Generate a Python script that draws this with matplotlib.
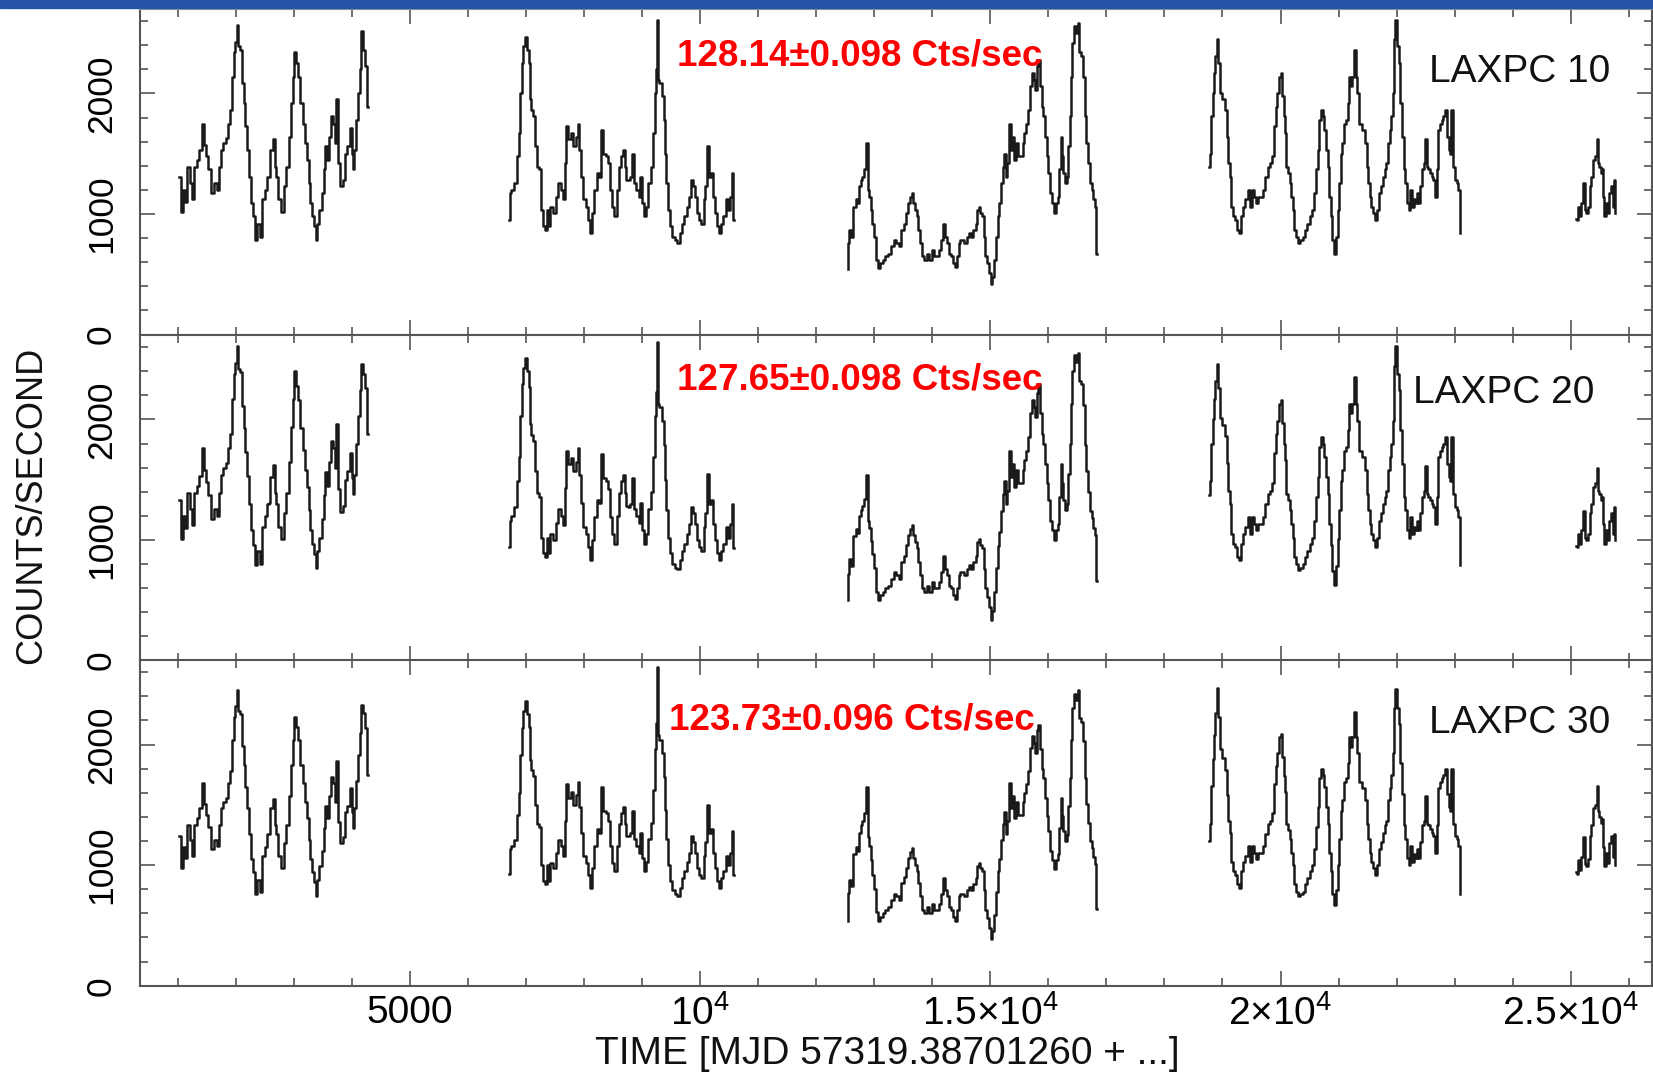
import numpy as np
import matplotlib.pyplot as plt
from matplotlib.ticker import MultipleLocator
from matplotlib.patches import Rectangle

plt.rcParams['font.family'] = ['Liberation Sans', 'DejaVu Sans']
plt.rcParams['mathtext.fontset'] = 'custom'
plt.rcParams['mathtext.rm'] = 'Liberation Sans'

# ---- light curve data (time in s after MJD 57319.38701260, counts/s) ----
seg1_time = [1030, 1070, 1120, 1140, 1180, 1230, 1260, 1300, 1350, 1400,
             1430, 1460, 1510, 1550, 1600, 1660, 1690, 1720, 1760, 1810,
             1850, 1890, 1920, 1950, 1980, 2010, 2030, 2060, 2090, 2120,
             2150, 2180, 2210, 2240, 2280, 2310, 2350, 2390, 2440, 2480,
             2520, 2550, 2580, 2610, 2660, 2680, 2710, 2750, 2810, 2840,
             2890, 2930, 2970, 3000, 3020, 3060, 3100, 3130, 3170, 3210,
             3240, 3270, 3300, 3330, 3360, 3390, 3410, 3460, 3500, 3530,
             3560, 3590, 3630, 3660, 3690, 3720, 3750, 3770, 3820, 3860,
             3900, 3940, 3980, 4010, 4030, 4060, 4090, 4120, 4150, 4180,
             4220, 4250, 4280]
seg1_lx10 = [1310, 1020, 1200, 1100, 1390, 1260, 1120, 1390, 1450, 1530,
             1750, 1570, 1480, 1370, 1170, 1260, 1200, 1390, 1530, 1590,
             1630, 1750, 1860, 2140, 2340, 2430, 2570, 2390, 2360, 2090,
             1920, 1730, 1530, 1310, 1090, 980, 780, 920, 810, 1120,
             1200, 1310, 1310, 1530, 1620, 1390, 1310, 1120, 1020, 1230,
             1390, 1640, 1920, 2140, 2340, 2250, 2140, 1920, 1750, 1590,
             1450, 1260, 1090, 980, 900, 780, 920, 1030, 1170, 1370,
             1560, 1450, 1640, 1810, 1750, 1590, 1950, 1420, 1230, 1280,
             1500, 1560, 1710, 1500, 1370, 1530, 1780, 2000, 2200, 2520,
             2360, 2230, 1890]
seg1_lx20 = [1330, 1010, 1200, 1100, 1390, 1260, 1120, 1390, 1450, 1530,
             1760, 1580, 1480, 1370, 1170, 1260, 1200, 1390, 1540, 1600,
             1640, 1760, 1880, 2170, 2380, 2470, 2610, 2420, 2390, 2110,
             1930, 1730, 1530, 1300, 1080, 960, 790, 910, 800, 1110,
             1200, 1300, 1310, 1520, 1620, 1390, 1300, 1110, 1010, 1220,
             1390, 1650, 1940, 2170, 2400, 2280, 2160, 1930, 1750, 1580,
             1440, 1250, 1080, 970, 880, 770, 910, 1020, 1170, 1370,
             1560, 1450, 1650, 1820, 1760, 1600, 1960, 1420, 1230, 1280,
             1500, 1570, 1720, 1510, 1380, 1540, 1800, 2030, 2240, 2460,
             2380, 2260, 1880]
seg1_lx30 = [1240, 980, 1150, 1060, 1330, 1210, 1080, 1330, 1390, 1470,
             1680, 1510, 1420, 1320, 1130, 1210, 1160, 1330, 1470, 1520,
             1560, 1680, 1780, 2040, 2230, 2320, 2450, 2280, 2250, 1990,
             1830, 1650, 1470, 1260, 1050, 940, 760, 880, 780, 1080,
             1150, 1260, 1260, 1470, 1550, 1330, 1260, 1080, 980, 1180,
             1330, 1570, 1830, 2040, 2230, 2150, 2040, 1830, 1680, 1520,
             1390, 1210, 1050, 940, 860, 740, 880, 990, 1120, 1310,
             1490, 1390, 1570, 1730, 1680, 1520, 1860, 1360, 1180, 1230,
             1440, 1490, 1640, 1440, 1310, 1470, 1700, 1910, 2100, 2330,
             2260, 2140, 1750]

seg2_time = [6710, 6730, 6770, 6830, 6860, 6890, 6920, 6940, 6970, 7000,
             7030, 7060, 7080, 7100, 7150, 7170, 7200, 7240, 7270, 7310,
             7350, 7380, 7400, 7440, 7490, 7540, 7580, 7620, 7650, 7680,
             7710, 7750, 7790, 7830, 7880, 7900, 7930, 7970, 8010, 8050,
             8090, 8120, 8160, 8200, 8240, 8280, 8310, 8350, 8400, 8440,
             8470, 8510, 8540, 8580, 8610, 8650, 8690, 8710, 8750, 8780,
             8810, 8840, 8870, 8920, 8960, 8980, 9020, 9050, 9090, 9130,
             9170, 9200, 9230, 9240, 9260, 9280, 9320, 9360, 9390, 9400,
             9430, 9460, 9500, 9540, 9590, 9630, 9670, 9710, 9750, 9790,
             9830, 9860, 9890, 9920, 9960, 10000, 10040, 10080, 10100, 10130,
             10160, 10200, 10230, 10280, 10310, 10350, 10380, 10420, 10460, 10500,
             10540, 10560, 10580]
seg2_lx10 = [950, 1170, 1200, 1260, 1480, 1670, 2000, 2250, 2390, 2470,
             2360, 2250, 1950, 1860, 1810, 1560, 1390, 1370, 1030, 900,
             870, 1030, 900, 1060, 1010, 1140, 1260, 1200, 1120, 1420,
             1730, 1620, 1670, 1560, 1640, 1750, 1530, 1310, 1120, 1060,
             950, 840, 1010, 1200, 1340, 1310, 1700, 1500, 1480, 1420,
             1200, 1060, 980, 1200, 1390, 1480, 1530, 1390, 1280, 1280,
             1310, 1500, 1260, 1200, 1140, 1310, 1090, 980, 1060, 1260,
             1390, 1670, 2000, 2200, 2610, 2110, 2090, 1980, 1780, 1500,
             1260, 1030, 900, 810, 780, 760, 840, 920, 980, 1060,
             1140, 1280, 1230, 1140, 1010, 950, 920, 1120, 1230, 1560,
             1310, 1340, 1140, 1010, 900, 840, 920, 980, 1120, 1030,
             1140, 1340, 950]
seg2_lx20 = [940, 1160, 1200, 1270, 1490, 1690, 2030, 2290, 2430, 2510,
             2400, 2270, 1960, 1870, 1820, 1570, 1390, 1360, 1020, 890,
             860, 1020, 890, 1050, 1000, 1140, 1260, 1200, 1120, 1430,
             1740, 1630, 1680, 1570, 1650, 1760, 1540, 1310, 1110, 1050,
             940, 830, 1000, 1190, 1330, 1310, 1710, 1510, 1490, 1420,
             1190, 1050, 970, 1200, 1390, 1490, 1540, 1390, 1280, 1270,
             1300, 1510, 1260, 1200, 1140, 1310, 1080, 970, 1050, 1260,
             1400, 1690, 2030, 2230, 2640, 2130, 2100, 1990, 1790, 1500,
             1250, 1020, 890, 800, 770, 760, 830, 910, 970, 1050,
             1130, 1270, 1220, 1130, 1000, 940, 910, 1110, 1220, 1550,
             1300, 1330, 1130, 1000, 890, 830, 910, 970, 1110, 1020,
             1130, 1300, 930]
seg2_lx30 = [930, 1130, 1160, 1210, 1420, 1600, 1910, 2140, 2280, 2360,
             2250, 2150, 1870, 1790, 1740, 1500, 1340, 1320, 1000, 870,
             840, 1000, 870, 1020, 980, 1100, 1210, 1160, 1080, 1370,
             1670, 1560, 1610, 1500, 1580, 1690, 1480, 1270, 1080, 1020,
             920, 810, 980, 1160, 1300, 1270, 1650, 1450, 1430, 1370,
             1160, 1020, 950, 1160, 1340, 1430, 1480, 1340, 1240, 1240,
             1270, 1450, 1220, 1160, 1100, 1270, 1060, 950, 1030, 1220,
             1350, 1620, 1960, 2180, 2640, 2080, 2040, 1930, 1730, 1460,
             1220, 1000, 870, 790, 760, 740, 810, 890, 950, 1030,
             1100, 1240, 1190, 1100, 980, 920, 890, 1080, 1190, 1500,
             1270, 1300, 1100, 980, 870, 810, 890, 950, 1080, 1000,
             1100, 1280, 920]

seg3_time = [12540, 12550, 12580, 12620, 12660, 12700, 12730, 12750, 12780, 12810,
             12840, 12870, 12900, 12930, 12950, 12980, 13010, 13040, 13080, 13130,
             13170, 13210, 13270, 13320, 13360, 13400, 13440, 13480, 13530, 13560,
             13600, 13630, 13660, 13680, 13720, 13740, 13770, 13800, 13840, 13880,
             13930, 13970, 14010, 14060, 14100, 14140, 14170, 14210, 14240, 14270,
             14310, 14340, 14370, 14410, 14440, 14470, 14500, 14540, 14570, 14610,
             14650, 14690, 14730, 14760, 14790, 14810, 14840, 14870, 14900, 14930,
             14960, 14990, 15020, 15050, 15090, 15120, 15140, 15170, 15200, 15230,
             15250, 15280, 15310, 15340, 15370, 15400, 15430, 15460, 15500, 15540,
             15570, 15600, 15630, 15670, 15700, 15730, 15760, 15790, 15810, 15840,
             15870, 15900, 15930, 15960, 15990, 16010, 16040, 16070, 16110, 16150,
             16180, 16200, 16220, 16240, 16270, 16300, 16330, 16360, 16380, 16400,
             16430, 16460, 16490, 16520, 16540, 16580, 16620, 16640, 16670, 16700,
             16730, 16760, 16790, 16820, 16830]
seg3_lx10 = [540, 760, 870, 810, 1060, 1120, 1090, 1230, 1280, 1310,
             1370, 1590, 1200, 1140, 1030, 920, 810, 620, 550, 590,
             620, 650, 670, 730, 780, 760, 730, 870, 920, 1010,
             1090, 1140, 1170, 1090, 1030, 980, 870, 760, 650, 620,
             670, 620, 700, 650, 650, 700, 780, 920, 810, 760,
             670, 650, 590, 560, 650, 760, 780, 780, 760, 810,
             840, 810, 870, 920, 1030, 1060, 1010, 980, 810, 650,
             590, 510, 420, 480, 620, 810, 980, 1090, 1260, 1390,
             1500, 1310, 1420, 1750, 1530, 1640, 1450, 1590, 1480, 1480,
             1590, 1670, 1750, 1860, 2060, 2170, 2110, 2030, 2230, 2280,
             2060, 1890, 1810, 1640, 1480, 1340, 1170, 1090, 1010, 1090,
             1140, 1370, 1640, 1480, 1340, 1260, 1310, 1560, 1810, 2140,
             2420, 2560, 2500, 2580, 2340, 2310, 2140, 1810, 1590, 1420,
             1260, 1200, 1120, 1060, 670]
seg3_lx20 = [500, 720, 840, 780, 1030, 1090, 1060, 1200, 1250, 1280,
             1340, 1540, 1160, 1100, 990, 880, 770, 570, 500, 540,
             570, 600, 620, 680, 730, 710, 680, 820, 870, 960,
             1040, 1090, 1120, 1040, 980, 930, 820, 710, 600, 570,
             620, 570, 650, 600, 600, 650, 730, 870, 760, 710,
             620, 600, 540, 510, 600, 710, 730, 730, 710, 760,
             790, 760, 820, 870, 980, 1010, 960, 930, 760, 600,
             530, 440, 340, 410, 570, 770, 950, 1070, 1240, 1380,
             1490, 1300, 1410, 1740, 1520, 1630, 1440, 1580, 1470, 1470,
             1580, 1660, 1740, 1850, 2050, 2160, 2100, 2020, 2220, 2290,
             2050, 1880, 1800, 1630, 1470, 1330, 1160, 1080, 1000, 1080,
             1130, 1360, 1630, 1470, 1330, 1250, 1300, 1550, 1800, 2130,
             2400, 2530, 2480, 2550, 2320, 2290, 2120, 1790, 1570, 1400,
             1240, 1180, 1100, 1040, 660]
seg3_lx30 = [540, 770, 880, 830, 1090, 1150, 1120, 1270, 1330, 1370,
             1430, 1650, 1230, 1160, 1040, 920, 800, 610, 540, 570,
             600, 630, 650, 710, 760, 740, 710, 850, 900, 980,
             1060, 1110, 1140, 1060, 1000, 950, 850, 740, 630, 600,
             650, 600, 680, 630, 630, 680, 760, 890, 790, 740,
             650, 630, 570, 540, 630, 740, 760, 760, 740, 790,
             820, 790, 840, 890, 990, 1020, 980, 950, 790, 630,
             560, 480, 390, 450, 590, 780, 950, 1050, 1210, 1340,
             1440, 1260, 1370, 1680, 1470, 1570, 1390, 1520, 1420, 1420,
             1520, 1600, 1670, 1780, 1970, 2070, 2010, 1930, 2120, 2160,
             1960, 1800, 1720, 1560, 1410, 1280, 1120, 1040, 970, 1040,
             1090, 1310, 1560, 1410, 1280, 1200, 1250, 1490, 1720, 2040,
             2300, 2420, 2370, 2450, 2220, 2190, 2030, 1720, 1510, 1350,
             1200, 1140, 1070, 1010, 640]

seg4_time = [18770, 18790, 18820, 18840, 18860, 18890, 18920, 18940, 18970, 19010,
             19060, 19090, 19110, 19140, 19170, 19200, 19230, 19270, 19300, 19330,
             19370, 19410, 19460, 19490, 19510, 19560, 19600, 19640, 19680, 19720,
             19760, 19800, 19840, 19870, 19900, 19930, 19960, 19990, 20020, 20040,
             20070, 20090, 20110, 20140, 20170, 20200, 20230, 20250, 20280, 20320,
             20360, 20400, 20440, 20480, 20520, 20570, 20600, 20630, 20650, 20680,
             20710, 20740, 20770, 20800, 20820, 20850, 20880, 20910, 20940, 20970,
             21000, 21020, 21050, 21080, 21110, 21140, 21170, 21200, 21220, 21250,
             21280, 21310, 21340, 21370, 21390, 21430, 21470, 21500, 21530, 21550,
             21580, 21610, 21650, 21680, 21710, 21750, 21780, 21810, 21840, 21870,
             21900, 21920, 21950, 21960, 21990, 22020, 22050, 22080, 22110, 22140,
             22160, 22190, 22220, 22250, 22280, 22310, 22340, 22360, 22390, 22420,
             22450, 22480, 22510, 22530, 22560, 22590, 22620, 22650, 22680, 22710,
             22730, 22760, 22790, 22820, 22850, 22880, 22910, 22930, 22960, 22990,
             23020, 23050, 23080, 23100]
seg4_lx10 = [1390, 1500, 1810, 2000, 2170, 2310, 2450, 2250, 2000, 1950,
             1860, 1640, 1420, 1310, 1060, 980, 950, 870, 840, 980,
             1060, 1120, 1200, 1060, 1200, 1140, 1090, 1140, 1140, 1200,
             1310, 1390, 1420, 1480, 1730, 1890, 2000, 2140, 2170, 1980,
             1810, 1670, 1390, 1340, 1260, 1140, 1030, 870, 810, 760,
             780, 810, 870, 920, 980, 1030, 1170, 1370, 1530, 1780,
             1860, 1810, 1700, 1530, 1390, 1140, 980, 780, 670, 810,
             1030, 1260, 1500, 1590, 1750, 1780, 1920, 2140, 2060, 2140,
             2360, 2140, 2000, 1750, 1750, 1700, 1590, 1390, 1260, 1140,
             1060, 1010, 950, 1030, 1170, 1230, 1310, 1370, 1420, 1590,
             1700, 1810, 2000, 2450, 2610, 2390, 2250, 1920, 1640, 1370,
             1260, 1090, 1030, 1200, 1060, 1120, 1090, 1170, 1090, 1230,
             1370, 1420, 1620, 1390, 1370, 1340, 1310, 1280, 1140, 1370,
             1700, 1750, 1780, 1810, 1860, 1640, 1530, 1500, 1860, 1390,
             1280, 1260, 1200, 840]
seg4_lx20 = [1370, 1490, 1800, 2000, 2170, 2320, 2460, 2260, 2010, 1950,
             1860, 1640, 1410, 1300, 1050, 970, 940, 860, 830, 970,
             1050, 1110, 1190, 1050, 1190, 1130, 1080, 1130, 1130, 1190,
             1300, 1380, 1410, 1470, 1720, 1880, 1990, 2130, 2160, 1970,
             1800, 1660, 1380, 1330, 1250, 1130, 1020, 860, 800, 750,
             770, 800, 860, 910, 970, 1020, 1160, 1360, 1520, 1770,
             1850, 1800, 1690, 1520, 1380, 1130, 960, 740, 630, 780,
             1010, 1250, 1490, 1580, 1740, 1770, 1910, 2130, 2050, 2130,
             2350, 2130, 1990, 1740, 1740, 1690, 1580, 1380, 1250, 1130,
             1050, 1000, 940, 1020, 1160, 1220, 1300, 1360, 1410, 1580,
             1690, 1800, 1990, 2440, 2610, 2380, 2240, 1910, 1630, 1360,
             1250, 1080, 1020, 1190, 1050, 1110, 1080, 1160, 1080, 1220,
             1360, 1410, 1610, 1380, 1360, 1330, 1300, 1270, 1130, 1360,
             1690, 1740, 1770, 1800, 1850, 1630, 1520, 1490, 1850, 1380,
             1270, 1250, 1190, 790]
seg4_lx30 = [1200, 1340, 1660, 1880, 2080, 2260, 2470, 2230, 1960, 1890,
             1790, 1580, 1370, 1270, 1030, 950, 920, 840, 810, 950,
             1030, 1080, 1160, 1030, 1160, 1100, 1050, 1100, 1100, 1160,
             1260, 1340, 1370, 1430, 1670, 1820, 1930, 2060, 2090, 1900,
             1740, 1610, 1340, 1290, 1220, 1100, 1000, 840, 780, 740,
             760, 780, 840, 890, 950, 1000, 1130, 1320, 1480, 1720,
             1800, 1750, 1650, 1480, 1340, 1100, 950, 760, 670, 790,
             1000, 1220, 1450, 1540, 1690, 1720, 1850, 2060, 1980, 2060,
             2270, 2060, 1930, 1690, 1690, 1640, 1540, 1340, 1220, 1100,
             1030, 980, 920, 1000, 1130, 1190, 1270, 1330, 1370, 1540,
             1640, 1750, 1930, 2300, 2460, 2300, 2170, 1850, 1590, 1330,
             1220, 1060, 1000, 1160, 1030, 1090, 1060, 1130, 1060, 1190,
             1330, 1370, 1570, 1340, 1330, 1300, 1270, 1240, 1100, 1330,
             1640, 1690, 1720, 1750, 1800, 1590, 1480, 1450, 1800, 1340,
             1240, 1220, 1160, 760]

seg5_time = [25090, 25110, 25140, 25170, 25200, 25230, 25250, 25270, 25320, 25340,
             25370, 25400, 25430, 25460, 25480, 25500, 25530, 25540, 25570, 25590,
             25620, 25650, 25680, 25710, 25730, 25760, 25770]
seg5_lx10 = [960, 950, 1060, 980, 1090, 1260, 1030, 1010, 1060, 1230,
             1310, 1450, 1480, 1620, 1420, 1390, 1340, 1370, 1140, 980,
             1090, 1010, 1170, 1230, 1060, 1280, 1010]
seg5_lx20 = [950, 940, 1050, 970, 1080, 1240, 1020, 1000, 1050, 1220,
             1300, 1440, 1470, 1600, 1410, 1380, 1330, 1360, 1130, 970,
             1080, 1000, 1160, 1220, 1050, 1270, 1000]
seg5_lx30 = [940, 930, 1040, 960, 1070, 1230, 1010, 990, 1050, 1240,
             1330, 1470, 1500, 1660, 1450, 1400, 1350, 1380, 1150, 990,
             1100, 1020, 1180, 1240, 1070, 1260, 1000]

seg_times = [seg1_time, seg2_time, seg3_time, seg4_time, seg5_time]
detectors = {
    "LAXPC 10": [seg1_lx10, seg2_lx10, seg3_lx10, seg4_lx10, seg5_lx10],
    "LAXPC 20": [seg1_lx20, seg2_lx20, seg3_lx20, seg4_lx20, seg5_lx20],
    "LAXPC 30": [seg1_lx30, seg2_lx30, seg3_lx30, seg4_lx30, seg5_lx30],
}
mean_rates = ["128.14±0.098 Cts/sec", "127.65±0.098 Cts/sec", "123.73±0.096 Cts/sec"]

xtick_vals = [5000, 10000, 15000, 20000, 25000]
xtick_labels = ["5000", r"$\mathregular{10^4}$", r"$\mathregular{1.5×10^4}$",
                r"$\mathregular{2×10^4}$", r"$\mathregular{2.5×10^4}$"]

W, H = 1653, 1075
fig = plt.figure(figsize=(W / 100, H / 100), dpi=100)


def fx(px):
    return px / W


def fy(py):
    return 1 - py / H


# slide header strip at the very top
fig.patches.append(Rectangle((0, fy(8)), 1, 8 / H, transform=fig.transFigure,
                             color="#2553a5", zorder=0))

frame = "#555555"
panel_h = 325.5 / H
bottoms = [fy(334.5), fy(660.5), fy(985.7)]
axes = []
for i, (name, segs) in enumerate(detectors.items()):
    ax = fig.add_axes([fx(140), bottoms[i], fx(1652) - fx(140), panel_h],
                      sharex=axes[0] if axes else None)
    axes.append(ax)
    for t, c in zip(seg_times, segs):
        ax.plot(t, c, color="#1a1a1a", lw=1.8, drawstyle="steps-mid")

    ax.set_xlim(350, 26400)
    ax.set_ylim(0, 2700)
    ax.xaxis.set_major_locator(MultipleLocator(5000))
    ax.xaxis.set_minor_locator(MultipleLocator(1000))
    ax.yaxis.set_major_locator(MultipleLocator(1000))
    ax.yaxis.set_minor_locator(MultipleLocator(200))
    ax.tick_params(which="both", direction="in", top=True, right=True,
                   color=frame, width=1.2)
    ax.tick_params(which="major", length=11)
    ax.tick_params(which="minor", length=5.5)
    ax.tick_params(axis="y", labelsize=25.5, pad=16, labelrotation=90)
    ax.tick_params(axis="x", labelsize=28, pad=7)
    for lab in ax.get_yticklabels():
        lab.set_va("center")
    for sp in ax.spines.values():
        sp.set_color(frame)
        sp.set_linewidth(1.5)
    if i < 2:
        ax.tick_params(axis="x", labelbottom=False)

axes[0].spines["top"].set_color("#9a9a9a")
axes[2].set_xticks(xtick_vals, xtick_labels)
axes[2].tick_params(axis="x", labelsize=28, pad=7)

# mean count-rate labels and detector names
rate_pos = [(860, 65), (860, 390), (852, 729.5)]
name_pos = [(1520, 82), (1504, 403), (1520, 733)]
for (name, _), rate, rp, npos in zip(detectors.items(), mean_rates, rate_pos, name_pos):
    fig.text(fx(rp[0]), fy(rp[1]), rate, color="red", fontsize=26.5,
             fontweight="bold", ha="center", va="baseline")
    fig.text(fx(npos[0]), fy(npos[1]), name, color="#111111", fontsize=28,
             ha="center", va="baseline")

fig.text(fx(887), fy(1054), "TIME [MJD 57319.38701260 + ...]", fontsize=28,
         ha="center", va="center", color="#111111")
fig.text(fx(32), fy(505), "COUNTS/SECOND", fontsize=26, rotation=90,
         ha="center", va="center", color="#111111")

fig.savefig("out.png", dpi=100)
